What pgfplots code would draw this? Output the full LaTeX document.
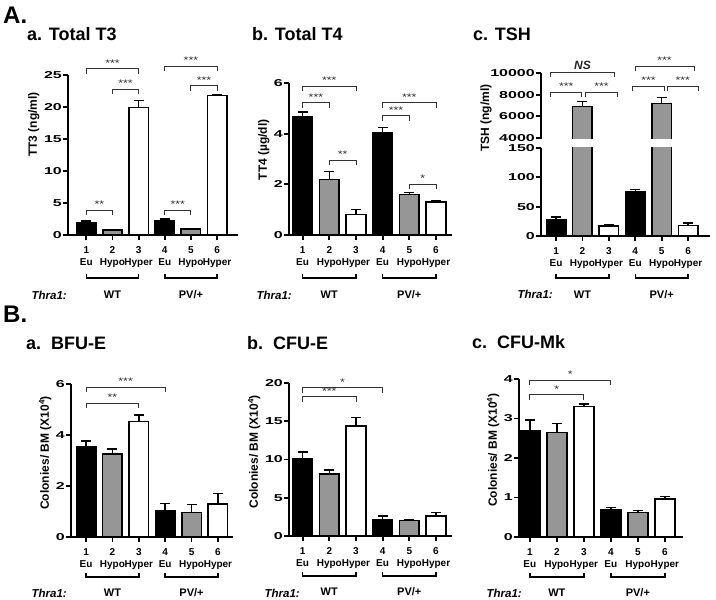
\documentclass[border=0pt]{standalone}
\usepackage{fontspec}
\setmainfont{Liberation Sans}
\newfontfamily\widefont[FakeStretch=1.6]{Liberation Sans}
\newfontfamily\starfont[FakeStretch=1.3]{Liberation Sans}
\usepackage{pgfplots}
\pgfplotsset{compat=1.18}
\definecolor{bargray}{RGB}{150,150,150}

\pgfplotsset{
 panel/.style={
  scale only axis, anchor=south west,
  axis lines*=left, axis line style={line width=1.8pt},
  tick align=outside, major tick length=5pt, tick style={line width=1.8pt, black},
  xtick={1,2,3,4,5,6},
  xticklabels={{1\\Eu},{2\\Hypo},{3\\Hyper},{4\\Eu},{5\\Hypo},{6\\Hyper}},
  xticklabel style={align=center, font=\bfseries\fontsize{10}{12}\selectfont, inner sep=1pt, yshift=-5pt},
  yticklabel style={font=\widefont\bfseries\fontsize{10}{10}\selectfont, inner sep=1pt},
  /pgf/number format/assume math mode=true, scaled y ticks=false,
  ylabel style={font=\bfseries\fontsize{12}{13}\selectfont},
  enlargelimits=false, clip mode=individual,
 },
 mybar/.style={ybar, bar shift=0pt, bar width=0.74, draw=black, line width=1.5pt,
   error bars/y dir=plus, error bars/y explicit,
   error bars/error bar style={line width=1.5pt, black},
   error bars/error mark options={rotate=90, mark size=5pt, line width=1.5pt, black}},
}

\tikzset{
 sigline/.style={line width=0.9pt, black!80},
 sigtxt/.style={font=\starfont\fontsize{9.5}{9.5}\selectfont, inner sep=2pt, text=black!85},
 ttl/.style={anchor=west, inner sep=0pt, font=\bfseries\fontsize{18}{18}\selectfont},
 big/.style={anchor=west, inner sep=0pt, font=\bfseries\fontsize{24}{24}\selectfont},
 thra/.style={anchor=east, inner sep=0pt, font=\bfseries\itshape\fontsize{11.5}{11.5}\selectfont},
}

\newcommand\sig[4]{%
 \draw[sigline] ([yshift=-5pt]axis cs:#1,#3) -- (axis cs:#1,#3) -- node[above, sigtxt]{#4} (axis cs:#2,#3) -- ([yshift=-5pt]axis cs:#2,#3);}

\newcommand\grp[2]{%
 \draw[line width=1.5pt] ([yshift=-#1pt+4pt]axis cs:1,0) -- ([yshift=-#1pt]axis cs:1,0) -- ([yshift=-#1pt]axis cs:3,0) -- ([yshift=-#1pt+4pt]axis cs:3,0);
 \draw[line width=1.5pt] ([yshift=-#1pt+4pt]axis cs:4,0) -- ([yshift=-#1pt]axis cs:4,0) -- ([yshift=-#1pt]axis cs:6,0) -- ([yshift=-#1pt+4pt]axis cs:6,0);
 \node[font=\bfseries\fontsize{11}{11}\selectfont] at ([yshift=-#2pt]axis cs:2,0) {WT};
 \node[font=\bfseries\fontsize{11}{11}\selectfont] at ([yshift=-#2pt]axis cs:5,0) {PV/+};
}

\begin{document}
\begin{tikzpicture}
\useasboundingbox (0pt,0pt) rectangle (716pt,600pt);

% ---------- A.a Total T3 ----------
\begin{axis}[panel, at={(68pt,365pt)}, width=170pt, height=160pt,
  xmin=0.3, xmax=6.8, ymin=0, ymax=25,
  ytick={0,5,10,15,20,25}, yticklabels={0,5,10,15,20,25},
  ylabel={TT3 (ng/ml)}, ylabel style={at={(ticklabel cs:0.69)}}]
\addplot[mybar, fill=black] coordinates {(1,1.9) +- (0,0.3) (4,2.3) +- (0,0.2)};
\addplot[mybar, fill=bargray] coordinates {(2,0.8) +- (0,0.06) (5,0.95) +- (0,0.06)};
\addplot[mybar, fill=white] coordinates {(3,19.9) +- (0,1.1) (6,21.8) +- (0,0.12)};
\sig{1}{2}{3.9}{**}
\sig{4}{5}{3.9}{***}
\sig{2}{3}{22.8}{***}
\sig{1}{3}{26.0}{***}
\sig{5}{6}{23.3}{***}
\sig{4}{6}{26.4}{***}
\grp{43}{60}
\end{axis}

% ---------- A.b Total T4 ----------
\begin{axis}[panel, at={(289pt,365pt)}, width=163pt, height=152pt,
  xmin=0.49, xmax=6.6, ymin=0, ymax=6,
  ytick={0,2,4,6}, yticklabels={0,2,4,6},
  ylabel={TT4 (µg/dl)}, ylabel style={at={(ticklabel cs:0.56)}}]
\addplot[mybar, fill=black] coordinates {(1,4.65) +- (0,0.2) (4,4.02) +- (0,0.22)};
\addplot[mybar, fill=bargray] coordinates {(2,2.2) +- (0,0.3) (5,1.6) +- (0,0.08)};
\addplot[mybar, fill=white] coordinates {(3,0.8) +- (0,0.2) (6,1.3) +- (0,0.05)};
\sig{1}{3}{5.88}{***}
\sig{1}{2}{5.22}{***}
\sig{2}{3}{2.96}{**}
\sig{4}{6}{5.22}{***}
\sig{4}{5}{4.70}{***}
\sig{5}{6}{2.01}{*}
\grp{43}{60}
\end{axis}

% ---------- A.c TSH (broken axis: lower part) ----------
\begin{axis}[panel, at={(541pt,364pt)}, width=169pt, height=88pt,
  xmin=0.43, xmax=6.83, ymin=0, ymax=150,
  ytick={0,50,100,150}, yticklabels={0,50,100,150}]
\addplot[mybar, fill=black] coordinates {(1,28) +- (0,4) (4,75) +- (0,4)};
\addplot[mybar, fill=bargray] coordinates {(2,6900) +- (0,450) (5,7200) +- (0,560)};
\addplot[mybar, fill=white] coordinates {(3,17) +- (0,3) (6,18) +- (0,4)};
\grp{42}{59}
\end{axis}
% ---------- A.c TSH (upper part) ----------
\begin{axis}[panel, at={(541pt,458.5pt)}, width=169pt, height=68.5pt,
  axis x line=none, xtick=\empty,
  xmin=0.43, xmax=6.83, ymin=3677, ymax=10000,
  ytick={4000,6000,8000,10000}, yticklabels={4000,6000,8000,10000}]
\addplot[mybar, fill=bargray] coordinates {(2,6900) +- (0,450) (5,7200) +- (0,560)};
\fill[white] (axis cs:0.3,3308) rectangle (axis cs:7,3926);
\sig{0.8}{3.2}{10090}{{\normalfont\bfseries\itshape\fontsize{12}{12}\selectfont NS}}
\sig{0.8}{1.97}{8246}{***}
\sig{2.12}{3.32}{8246}{***}
\sig{3.99}{6.23}{10650}{***}
\sig{3.9}{5.1}{8800}{***}
\sig{5.21}{6.39}{8800}{***}
\end{axis}
\node[rotate=90, inner sep=0pt, font=\bfseries\fontsize{12}{13}\selectfont] at (486pt,482pt) {TSH (ng/ml)};

% ---------- B.a BFU-E ----------
\begin{axis}[panel, at={(71pt,63pt)}, width=162pt, height=153pt,
  xmin=0.43, xmax=6.57, ymin=0, ymax=6,
  ytick={0,2,4,6}, yticklabels={0,2,4,6},
  ylabel={Colonies/ BM (X10\textsuperscript{4})}, ylabel style={at={(ticklabel cs:0.55)}}]
\addplot[mybar, fill=black] coordinates {(1,3.55) +- (0,0.22) (4,1.02) +- (0,0.3)};
\addplot[mybar, fill=bargray] coordinates {(2,3.25) +- (0,0.2) (5,0.97) +- (0,0.3)};
\addplot[mybar, fill=white] coordinates {(3,4.52) +- (0,0.26) (6,1.3) +- (0,0.4)};
\sig{1}{4}{5.88}{***}
\sig{1}{3}{5.25}{**}
\grp{40}{56}
\end{axis}

% ---------- B.b CFU-E ----------
\begin{axis}[panel, at={(289pt,64pt)}, width=163pt, height=153pt,
  xmin=0.49, xmax=6.6, ymin=0, ymax=20,
  ytick={0,5,10,15,20}, yticklabels={0,5,10,15,20},
  ylabel={Colonies/ BM (X10\textsuperscript{4})}, ylabel style={at={(ticklabel cs:0.55)}}]
\addplot[mybar, fill=black] coordinates {(1,10.1) +- (0,0.9) (4,2.1) +- (0,0.5)};
\addplot[mybar, fill=bargray] coordinates {(2,8.1) +- (0,0.5) (5,2.0) +- (0,0.1)};
\addplot[mybar, fill=white] coordinates {(3,14.4) +- (0,1.1) (6,2.6) +- (0,0.5)};
\sig{1}{4}{19.4}{*}
\sig{1}{3}{18.2}{***}
\grp{40}{56}
\end{axis}

% ---------- B.c CFU-Mk ----------
\begin{axis}[panel, at={(519pt,63pt)}, width=164pt, height=158pt,
  xmin=0.6, xmax=6.67, ymin=0, ymax=4,
  ytick={0,1,2,3,4}, yticklabels={0,1,2,3,4},
  ylabel={Colonies/ BM (X10\textsuperscript{4})}, ylabel style={at={(ticklabel cs:0.55)}}]
\addplot[mybar, fill=black] coordinates {(1,2.7) +- (0,0.26) (4,0.7) +- (0,0.05)};
\addplot[mybar, fill=bargray] coordinates {(2,2.65) +- (0,0.22) (5,0.62) +- (0,0.05)};
\addplot[mybar, fill=white] coordinates {(3,3.3) +- (0,0.07) (6,0.96) +- (0,0.06)};
\sig{1}{4}{3.97}{*}
\sig{1}{3}{3.6}{*}
\grp{40}{56}
\end{axis}

% ---------- titles ----------
\node[big] at (3pt,585pt) {A.};
\node[ttl] at (27pt,566pt) {a. Total T3};
\node[ttl] at (252pt,566pt) {b. Total T4};
\node[ttl] at (473pt,566pt) {c. TSH};
\node[big] at (3pt,286pt) {B.};
\node[ttl] at (26pt,257pt) {a.\ \ BFU-E};
\node[ttl] at (247pt,257pt) {b.\ \ CFU-E};
\node[ttl] at (472pt,258pt) {c.\ \ CFU-Mk};

% ---------- Thra1 labels ----------
\node[thra] at (67pt,305pt) {Thra1:};
\node[thra] at (292pt,305pt) {Thra1:};
\node[thra] at (553pt,306pt) {Thra1:};
\node[thra] at (67pt,7pt) {Thra1:};
\node[thra] at (300pt,7pt) {Thra1:};
\node[thra] at (522pt,7pt) {Thra1:};
\end{tikzpicture}
\end{document}
